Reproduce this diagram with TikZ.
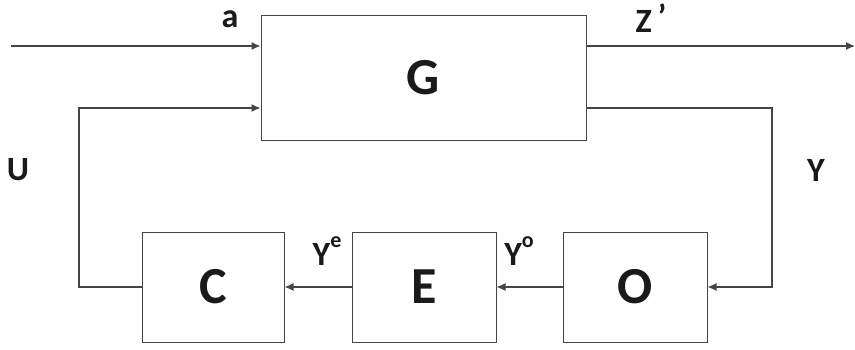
\documentclass[tikz,border=0pt]{standalone}
\usepackage{fontspec}
\setmainfont{Carlito}
\usepackage{tikz}
\usetikzlibrary{arrows.meta}

\definecolor{wire}{HTML}{454545}
\definecolor{ink}{HTML}{1A1A1A}

\newcommand{\supl}[1]{\raisebox{0.55em}{\fontsize{22}{24}\selectfont #1}}

\begin{document}
\begin{tikzpicture}[x=1pt,y=-1pt]
\tikzstyle{every node}+=[inner sep=0pt]
\tikzstyle{block}=[draw=wire, line width=1pt, fill=white]
\tikzstyle{big}=[text=ink, font=\fontsize{52}{56}\selectfont\bfseries]
\tikzstyle{lbl}=[text=ink, font=\fontsize{34}{38}\selectfont\bfseries]
\tikzstyle{sig}=[draw=wire, line width=1.3pt, -{Latex[length=9pt,width=8pt]}]
\useasboundingbox (0,0) rectangle (855,349);
% blocks
\node [block, minimum width=325pt, minimum height=125pt] (G) at (423.5,77.5) {};
\node [big] at (G) {G};
\node [block, minimum width=142pt, minimum height=110pt] (C) at (213,287) {};
\node [big] at (C) {C};
\node [block, minimum width=144pt, minimum height=110pt] (E) at (424,287) {};
\node [big] at (E) {E};
\node [block, minimum width=144pt, minimum height=110pt] (O) at (635,287) {};
\node [big] at (O) {O};
% free ends and corners
\coordinate (ain) at (11,46);
\coordinate (zout) at (855,46);
\coordinate (ycor) at (772,108);
\coordinate (ucor) at (79,108);
% signals
\draw [sig] (ain) -- (ain -| G.west);
\draw [sig] (zout -| G.east) -- (zout);
\draw [sig] (ycor -| G.east) -- (ycor) |- (O.east);
\draw [sig] (O.west) -- (E.east);
\draw [sig] (E.west) -- (C.east);
\draw [sig] (C.west) -| (ucor) -- (ucor -| G.west);
% labels
\node [lbl] (la) at (230,19) {a};
\node [lbl] (lz) at (651,18) {Z\,\raisebox{0.1em}{’}};
\node [lbl] (lu) at (18,170) {U};
\node [lbl] (ly) at (816,170) {Y};
\node [lbl] (lye) at (327,251) {Y\supl{e}};
\node [lbl] (lyo) at (519,251) {Y\supl{o}};
\end{tikzpicture}
\end{document}
